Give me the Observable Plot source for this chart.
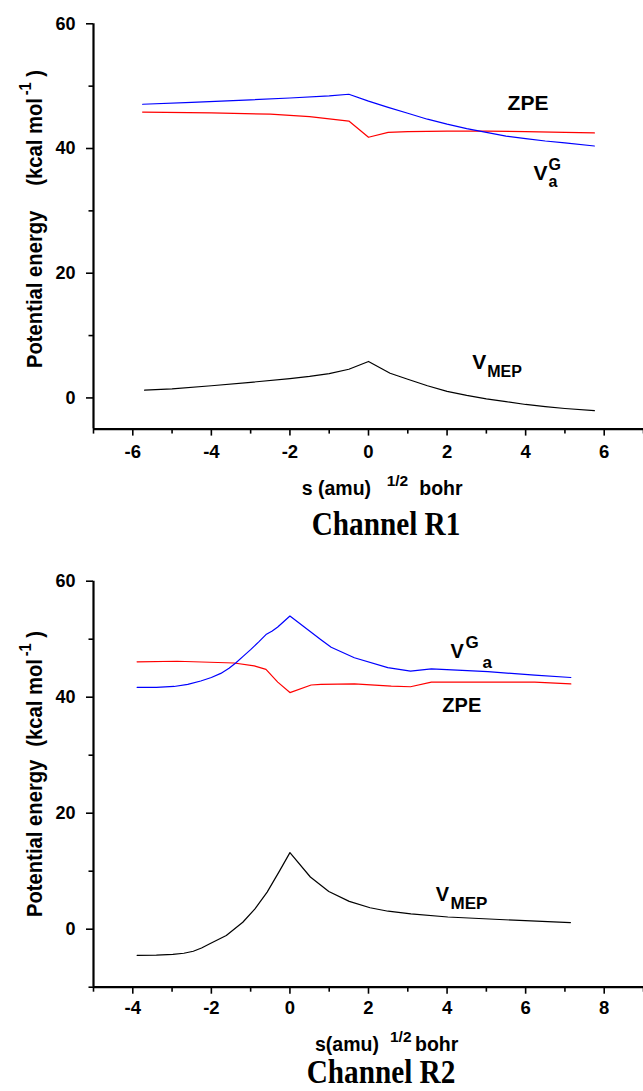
<!DOCTYPE html>
<html><head><meta charset="utf-8">
<script src="https://cdn.jsdelivr.net/npm/d3@7"></script>
<script src="https://cdn.jsdelivr.net/npm/@observablehq/plot@0.6"></script>
<style>
html,body{margin:0;padding:0;background:#fff;overflow:hidden;}
#wrap{position:relative;width:643px;height:1091px;overflow:hidden;}
.panel{position:absolute;left:0;}
.cap{position:absolute;left:0;width:643px;height:34px;font-family:"Liberation Serif","Times New Roman",serif;font-weight:bold;font-size:34px;line-height:1;white-space:nowrap;color:#000;}
.cap span{position:absolute;top:0;transform:translateX(-50%) scaleX(0.86);}
</style></head><body><div id="wrap"></div>
<script>
// ---------- Channel R1 data ----------
const r1VagS = [-5.75,-4.5,-3,-2,-1,-0.5,0,0.5,1,1.5,2,2.5,3,3.5,4,4.5,5,5.75];
const r1VagE = [47.1,47.4,47.8,48.1,48.45,48.7,47.6,46.6,45.65,44.7,43.9,43.2,42.6,42.0,41.6,41.2,40.9,40.4];
const r1ZpeS = [-5.75,-4,-2.5,-1.5,-0.5,0,0.5,1,2,3,4,5,5.75];
const r1ZpeE = [45.85,45.7,45.5,45.1,44.4,41.8,42.6,42.7,42.8,42.8,42.7,42.6,42.5];
const r1MepS = [-5.7,-5,-4,-3,-2,-1.5,-1,-0.5,0,0.55,1,1.5,2,2.5,3,3.5,4,4.5,5,5.75];
const r1MepE = [1.24,1.45,1.95,2.5,3.1,3.45,3.9,4.6,5.85,3.96,3.0,1.95,1.05,0.4,-0.15,-0.6,-1.05,-1.4,-1.7,-2.05];

// ---------- Channel R2 data ----------
const r2VagS = [-3.89,-3.4,-2.95,-2.6,-2.27,-2.0,-1.76,-1.55,-1.38,-1.2,-1.0,-0.8,-0.61,-0.45,-0.31,0,0.79,1.05,1.64,2.49,3.07,3.6,5.04,6.23,7.15];
const r2VagE = [41.7,41.7,41.85,42.2,42.8,43.4,44.1,45.0,45.9,47.0,48.2,49.5,50.8,51.4,52.1,54.0,49.9,48.6,46.8,45.1,44.5,44.9,44.4,43.8,43.4];
const r2ZpeS = [-3.89,-2.87,-1.42,-0.91,-0.61,-0.31,0,0.54,0.79,1.64,2.58,3.07,3.6,5.04,6.23,7.15];
const r2ZpeE = [46.1,46.2,45.9,45.4,44.8,42.6,40.8,42.1,42.2,42.3,41.9,41.8,42.6,42.6,42.6,42.3];
const r2MepS = [-3.89,-3.4,-2.98,-2.7,-2.46,-2.25,-2.04,-1.62,-1.2,-0.89,-0.58,-0.26,0,0.52,0.99,1.51,2.04,2.5,3.08,4.02,5.7,7.14];
const r2MepE = [-4.5,-4.48,-4.35,-4.15,-3.8,-3.25,-2.5,-1.1,1.2,3.5,6.4,10.1,13.2,9.0,6.5,4.8,3.7,3.1,2.65,2.1,1.55,1.15];

// ---------- axes ----------
const r1XMajor = [-6,-4,-2,0,2,4,6];
const r1XMinor = [-7,-5,-3,-1,1,3,5,7];
const r2XMajor = [-4,-2,0,2,4,6,8];
const r2XMinor = [-5,-3,-1,1,3,5,7,9];
const r1YMajor = [0,20,40,60];
const r1YMinor = [10,30,50];
const r2YMajor = [0,20,40,60];
const r2YMinor = [-10,10,30,50];

// ---------- curve labels (data coordinates) ----------
const r1LabelMain = [{s:3.54,e:46.1,t:"ZPE"},{s:4.2,e:34.9,t:"V"},{s:2.64,e:4.67,t:"V"}];
const r1LabelScript = [{s:4.58,e:36.5,t:"G"},{s:4.58,e:33.8,t:"a"},{s:3.02,e:3.32,t:"MEP"}];
const r2LabelMain = [{s:3.88,e:37.4,t:"ZPE"},{s:4.09,e:46.7,t:"V"},{s:3.71,e:4.93,t:"V"}];
const r2LabelScript = [{s:4.47,e:48.4,t:"G"},{s:4.9,e:45.1,t:"a"},{s:4.09,e:3.55,t:"MEP"}];

const FONT = '"Liberation Sans", Arial, Helvetica, sans-serif';
const toRows = (S, E) => S.map((s, i) => ({s, e: E[i]}));

function panel(o) {
  const fmt = d => String(d);
  const svg = Plot.plot({
    width: 643, height: o.height,
    marginLeft: 93, marginRight: 0, marginTop: o.marginTop, marginBottom: o.marginBottom,
    style: {fontFamily: FONT, fontWeight: "bold", color: "#000", background: "#fff", overflow: "visible"},
    x: {domain: o.xDomain},
    y: {domain: o.yDomain},
    marks: [
      Plot.axisY(o.yMajor, {tickSize: 7, tickPadding: 11, strokeWidth: 1.6, fontSize: 18, tickFormat: fmt, label: null}),
      Plot.axisY(o.yMinor, {tickSize: 4.5, strokeWidth: 1.6, text: null, label: null}),
      Plot.axisX(o.xMajor, {tickSize: 7, tickPadding: o.xPad, strokeWidth: 1.6, fontSize: 18.5, tickFormat: fmt, label: null}),
      Plot.axisX(o.xMinor, {tickSize: 5, strokeWidth: 1.6, text: null, label: null}),
      Plot.ruleX([o.xDomain[0]], {stroke: "#000", strokeWidth: 2.2}),
      Plot.ruleY([o.yDomain[0]], {stroke: "#000", strokeWidth: 2.2}),
      Plot.line(o.mep, {x: "s", y: "e", stroke: "#000", strokeWidth: 1.2}),
      Plot.line(o.zpe, {x: "s", y: "e", stroke: "#ff0000", strokeWidth: 1.2}),
      Plot.line(o.vag, {x: "s", y: "e", stroke: "#0000ff", strokeWidth: 1.2}),
      Plot.text(o.main, {x: "s", y: "e", text: "t", textAnchor: "start", lineAnchor: "bottom", fontSize: o.mainSize, fontWeight: "bold", fontFamily: FONT, fill: "#000"}),
      Plot.text(o.script, {x: "s", y: "e", text: "t", textAnchor: "start", lineAnchor: "bottom", fontSize: o.scriptSize, fontWeight: "bold", fontFamily: FONT, fill: "#000"})
    ]
  });
  const g = d3.select(svg);
  // y-axis title (slightly condensed along its reading direction, as in the original)
  const yt = g.append("text")
    .attr("transform", `translate(42,${o.yLabelStart}) rotate(-90) scale(0.92,1)`)
    .attr("text-anchor", "start")
    .attr("font-family", FONT).attr("font-weight", "bold").attr("font-size", 22).attr("fill", "#000");
  yt.append("tspan").text("Potential energy");
  yt.append("tspan").attr("dx", o.yGap).text("(kcal mol");
  yt.append("tspan").attr("font-size", 16).attr("dx", 3).attr("dy", -11).text("-1");
  yt.append("tspan").attr("dx", 6).attr("dy", 11).text(")");
  // x-axis title
  const xt = g.append("text")
    .attr("y", o.xLabelY)
    .attr("text-anchor", "start")
    .attr("font-family", FONT).attr("font-weight", "bold").attr("font-size", 19.5).attr("fill", "#000");
  xt.append("tspan").attr("x", o.xl[0]).text(o.xl[3]);
  xt.append("tspan").attr("x", o.xl[1]).attr("dy", -9).attr("font-size", 15.5).text("1/2");
  xt.append("tspan").attr("x", o.xl[2]).attr("dy", 9).text("bohr");
  return svg;
}

const wrap = document.getElementById("wrap");
function place(el, top) { const d = document.createElement("div"); d.className = "panel"; d.style.top = top + "px"; d.appendChild(el); wrap.appendChild(d); }
function caption(text, top, cx) {
  const d = document.createElement("div"); d.className = "cap"; d.style.top = top + "px";
  const s = document.createElement("span"); s.textContent = text; s.style.left = cx + "px";
  d.appendChild(s); wrap.appendChild(d);
}

place(panel({
  height: 505, marginTop: 23.3, marginBottom: 76.4, xPad: 9,
  xDomain: [-7, 7], yDomain: [-5, 60],
  xMajor: r1XMajor, xMinor: r1XMinor, yMajor: r1YMajor, yMinor: r1YMinor,
  vag: toRows(r1VagS, r1VagE), zpe: toRows(r1ZpeS, r1ZpeE), mep: toRows(r1MepS, r1MepE),
  main: r1LabelMain, script: r1LabelScript, mainSize: 21, scriptSize: 16,
  yLabelStart: 368, yGap: 27, xLabelY: 495, xl: [301.7, 386.7, 419.3, "s (amu)"]
}), 0);
caption("Channel R1", 507, 386);

place(panel({
  height: 505, marginTop: 30.7, marginBottom: 68.3, xPad: 7,
  xDomain: [-5, 9], yDomain: [-10, 60],
  xMajor: r2XMajor, xMinor: r2XMinor, yMajor: r2YMajor, yMinor: r2YMinor,
  vag: toRows(r2VagS, r2VagE), zpe: toRows(r2ZpeS, r2ZpeE), mep: toRows(r2MepS, r2MepE),
  main: r2LabelMain, script: r2LabelScript, mainSize: 20, scriptSize: 17,
  yLabelStart: 367, yGap: 14, xLabelY: 501, xl: [315, 390, 415, "s(amu)"]
}), 550);
caption("Channel R2", 1055, 381);
</script></body></html>
